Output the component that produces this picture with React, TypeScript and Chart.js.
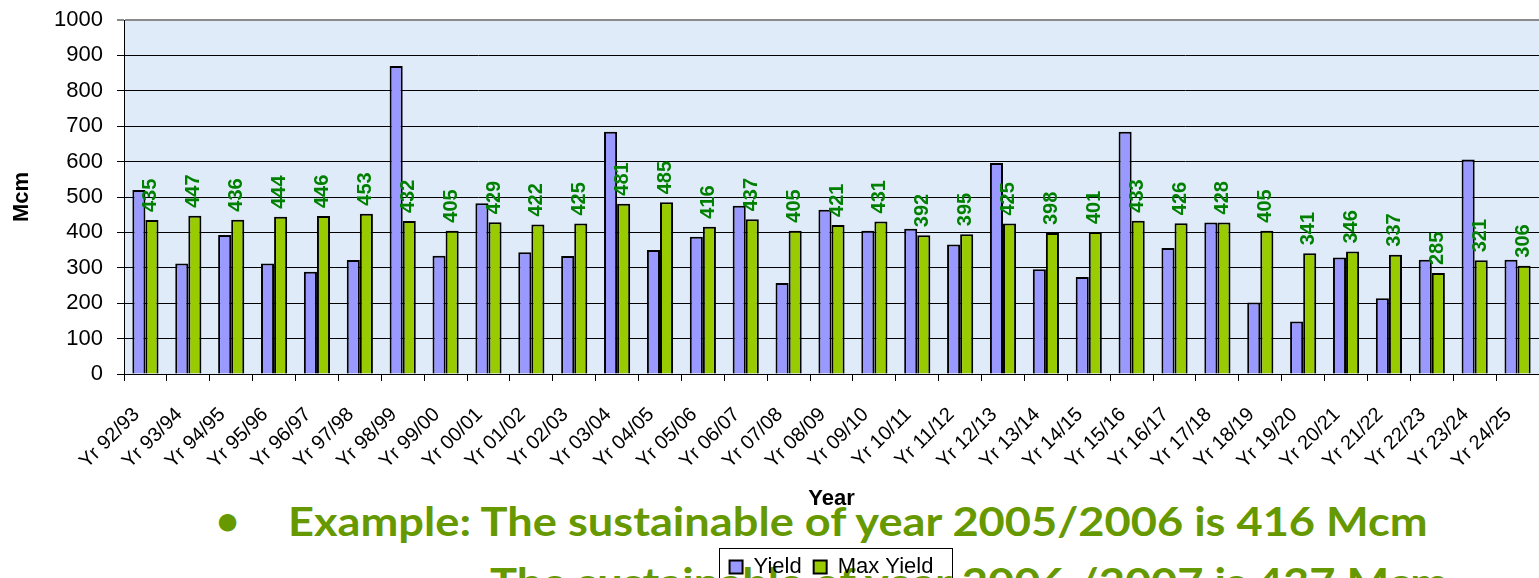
import React, { useEffect, useRef } from "react";
import { Chart, registerables } from "chart.js";

Chart.register(...registerables);

const categories = [
  "Yr 92/93", "Yr 93/94", "Yr 94/95", "Yr 95/96", "Yr 96/97", "Yr 97/98", "Yr 98/99",
  "Yr 99/00", "Yr 00/01", "Yr 01/02", "Yr 02/03", "Yr 03/04", "Yr 04/05", "Yr 05/06",
  "Yr 06/07", "Yr 07/08", "Yr 08/09", "Yr 09/10", "Yr 10/11", "Yr 11/12", "Yr 12/13",
  "Yr 13/14", "Yr 14/15", "Yr 15/16", "Yr 16/17", "Yr 17/18", "Yr 18/19", "Yr 19/20",
  "Yr 20/21", "Yr 21/22", "Yr 22/23", "Yr 23/24", "Yr 24/25",
];

const yieldValues = [
  520, 312, 393, 312, 289, 322, 870, 334, 482, 344, 333, 684, 350, 388, 475, 257, 464,
  405, 410, 366, 596, 296, 274, 684, 356, 428, 202, 148, 329, 214, 323, 606, 323,
];

const maxYieldValues = [
  435, 447, 436, 444, 446, 453, 432, 405, 429, 422, 425, 481, 485, 416, 437, 405, 421,
  431, 392, 395, 425, 398, 401, 433, 426, 428, 405, 341, 346, 337, 285, 321, 306,
];

const seriesNames = ["Yield", "Max Yield"];
const yAxisTitle = "Mcm";
const xAxisTitle = "Year";
const noteLines = [
  "Example: The sustainable of year 2005/2006 is 416 Mcm",
  "The sustainable of year 2006 /2007 is 437 Mcm",
];

const FONT = '"Liberation Sans", Arial, sans-serif';
const NOTE_FONT = 'Lato, "Open Sans", sans-serif';

const plotBackground = {
  id: "plotBackground",
  beforeDraw(chart: any) {
    const { ctx, chartArea } = chart;
    if (!chartArea) return;
    ctx.save();
    ctx.fillStyle = "#e0ebf9";
    ctx.fillRect(chartArea.left, chartArea.top, chartArea.right - chartArea.left, chartArea.bottom - chartArea.top);
    ctx.restore();
  },
};

const legendShift = {
  id: "legendShift",
  afterLayout(chart: any) {
    const lg = chart.legend;
    const ca = chart.chartArea;
    if (!lg || !ca) return;
    const dx = (ca.left + ca.right) / 2 - (lg.left + lg.right) / 2;
    lg.left += dx;
    lg.right += dx;
  },
};

const legendFrame = {
  id: "legendFrame",
  afterDraw(chart: any) {
    const lg = chart.legend;
    const hb = lg && lg.legendHitBoxes;
    if (!hb || !hb.length) return;
    const left = Math.min(...hb.map((h: any) => h.left)) - 10.5;
    const right = Math.max(...hb.map((h: any) => h.left + h.width)) + 19;
    const top = Math.min(...hb.map((h: any) => h.top)) - 8.5;
    const ctx = chart.ctx;
    ctx.save();
    ctx.strokeStyle = "#000";
    ctx.lineWidth = 1;
    ctx.strokeRect(Math.round(left) + 0.5, Math.round(top) + 0.5, Math.round(right - left), 44);
    ctx.restore();
  },
};

const valueLabels = {
  id: "valueLabels",
  afterDatasetsDraw(chart: any) {
    const meta = chart.getDatasetMeta(1);
    const values = chart.data.datasets[1].data;
    const ctx = chart.ctx;
    ctx.save();
    ctx.fillStyle = "#008000";
    ctx.font = `bold 20px ${FONT}`;
    ctx.textAlign = "left";
    ctx.textBaseline = "middle";
    meta.data.forEach((bar: any, i: number) => {
      ctx.save();
      ctx.translate(bar.x - 1, bar.y - 8);
      ctx.rotate(-Math.PI / 2);
      ctx.fillText(String(values[i]), 0, 0);
      ctx.restore();
    });
    ctx.restore();
  },
};

function ChartCanvas() {
  const ref = useRef<HTMLCanvasElement | null>(null);
  useEffect(() => {
    if (!ref.current) return;
    const chart = new Chart(ref.current, {
      type: "bar",
      data: {
        labels: categories,
        datasets: [
          {
            label: seriesNames[0],
            data: yieldValues,
            backgroundColor: "#9999FF",
            borderColor: "#000000",
            borderWidth: 2,
            categoryPercentage: 0.61,
            barPercentage: 1,
          },
          {
            label: seriesNames[1],
            data: maxYieldValues,
            backgroundColor: "#99CC00",
            borderColor: "#000000",
            borderWidth: 2,
            categoryPercentage: 0.61,
            barPercentage: 1,
          },
        ],
      },
      options: {
        responsive: false,
        animation: false,
        layout: { padding: { top: 20, left: 0, right: 0, bottom: 0 } },
        plugins: {
          tooltip: { enabled: false },
          legend: {
            position: "bottom",
            labels: {
              boxWidth: 13,
              boxHeight: 13,
              padding: 12,
              color: "#000",
              font: { family: FONT, size: 22 },
            },
          },
        },
        scales: {
          x: {
            afterFit(scale: any) {
              scale.height = 170;
              scale.paddingLeft = 0;
              scale.paddingRight = 0;
            },
            grid: {
              display: true,
              drawOnChartArea: false,
              drawTicks: true,
              tickLength: 7,
              color: "#000",
              offset: true,
            },
            border: { color: "#000", width: 1 },
            ticks: {
              autoSkip: false,
              minRotation: 45,
              maxRotation: 45,
              padding: 22,
              labelOffset: -9,
              color: "#000",
              font: { family: FONT, size: 20 },
            },
            title: {
              display: true,
              text: xAxisTitle,
              color: "#000",
              font: { family: FONT, size: 22, weight: "bold" },
              padding: { top: 18, bottom: 32 },
            },
          },
          y: {
            afterFit(scale: any) {
              scale.width = 124;
              scale.paddingTop = 13;
              scale.paddingBottom = 0;
            },
            min: 0,
            max: 1000,
            ticks: {
              stepSize: 100,
              padding: 14,
              color: "#000",
              font: { family: FONT, size: 22 },
              callback: (v: any) => String(v),
            },
            grid: {
              color: (c: any) => (c.tick && c.tick.value === 1000 ? "#8a8a8a" : "#000"),
              lineWidth: (c: any) => (c.tick && c.tick.value === 1000 ? 2 : 1),
              tickLength: 7,
              drawTicks: true,
            },
            border: { color: "#000", width: 1 },
            title: {
              display: true,
              text: yAxisTitle,
              color: "#000",
              font: { family: FONT, size: 22, weight: "bold" },
              padding: { top: 9, bottom: 19 },
            },
          },
        },
      },
      plugins: [plotBackground, legendShift, legendFrame, valueLabels],
    } as any);
    return () => chart.destroy();
  }, []);
  return <canvas ref={ref} width={1539} height={588} style={{ width: 1539, height: 588, display: "block" }} />;
}

function fitScale(): number {
  try {
    const c = document.createElement("canvas").getContext("2d");
    if (!c) return 1;
    c.font = `700 40px ${NOTE_FONT}`;
    const w = c.measureText(noteLines[0]).width;
    return w > 0 ? 1144 / w : 1;
  } catch {
    return 1;
  }
}

export default function App() {
  const s = fitScale();
  const noteStyle: React.CSSProperties = {
    position: "absolute",
    fontFamily: NOTE_FONT,
    fontWeight: 700,
    fontSize: 40,
    lineHeight: "40px",
    color: "#669900",
    whiteSpace: "nowrap",
    transformOrigin: "0 0",
    transform: `scaleX(${s})`,
  };
  return (
    <div style={{ position: "absolute", left: 0, top: 0, width: 1539, height: 578, overflow: "hidden", background: "#fff" }}>
      <div style={{ ...noteStyle, left: 216, top: 500, transform: "none" }}>•</div>
      <div style={{ ...noteStyle, left: 288, top: 500.5 }}>{noteLines[0]}</div>
      <div style={{ ...noteStyle, left: 490, top: 561.5 }}>{noteLines[1]}</div>
      <div style={{ position: "absolute", left: 0, top: 0 }}>
        <ChartCanvas />
      </div>
    </div>
  );
}
